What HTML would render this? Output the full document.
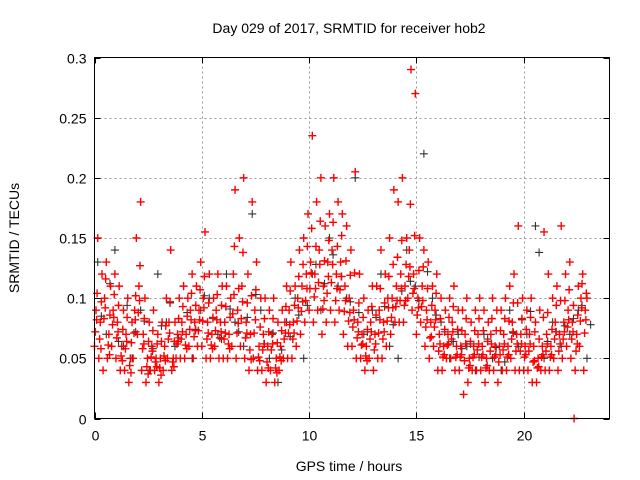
<!DOCTYPE html>
<html><head><meta charset="utf-8"><style>
html,body{margin:0;padding:0;background:#fff;}
svg{display:block;font-family:"Liberation Sans",sans-serif;}
</style></head><body>
<svg id="chart" width="640" height="480" viewBox="0 0 640 480">
<text x="349" y="33" font-size="14" text-anchor="middle">Day 029 of 2017, SRMTID for receiver hob2</text>
<text transform="translate(19,238) rotate(-90)" font-size="14" text-anchor="middle">SRMTID / TECUs</text>
<text x="349" y="471" font-size="14" text-anchor="middle">GPS time / hours</text>
<g id="grid"></g>
<g id="ticks"></g>
<g id="black" stroke="#333" stroke-width="1.1"></g>
<g id="red" stroke="#f00" stroke-width="1.4"></g>
<rect x="94.5" y="57.5" width="515" height="361" fill="none" stroke="#000" stroke-width="1"/>
</svg>
<script>
const xTicks=[0,5,10,15,20];
const yTicks=[0,0.05,0.1,0.15,0.2,0.25,0.3];
const yTickLabels=["0","0.05","0.1","0.15","0.2","0.25","0.3"];
const step=0.2;
const redLo=[.06,.05,.04,.05,.06, .05,.04,.04,.03,.05, .07,.04,.03,.04,.04, .03,.04,.05,.04,.05, .05,.05,.06,.05,.06, .06,.05,.05,.06,.05, .05,.05,.06,.05,.06, .05,.04,.05,.04,.04, .03,.04,.03,.04,.05, .05,.05,.06,.07,.08, .09,.08,.09,.07,.08, .09,.08,.09,.07,.06, .06,.05,.05,.04,.05, .04,.05,.05,.06,.07, .08,.08,.08,.10,.09, .07,.08,.06,.05,.06, .04,.04,.05,.05,.04, .04,.02,.03,.04,.04, .04,.03,.04,.04,.03, .04,.04,.05,.04,.04, .04,.04,.03,.03,.04, .04,.04,.05,.04,.05, .06,.05,.04,.06,.04];
const redMid=[.09,.08,.10,.07,.09, .08,.06,.07,.05,.09, .11,.07,.05,.06,.05, .05,.06,.08,.05,.07, .08,.07,.09,.08,.09, .10,.08,.07,.09,.08, .08,.07,.12,.09,.11, .08,.07,.09,.06,.07, .06,.07,.05,.06,.08, .09,.08,.10,.11,.12, .13,.12,.14,.11,.13, .14,.12,.13,.11,.10, .09,.08,.07,.06,.08, .07,.09,.08,.10,.10, .11,.12,.11,.14,.12, .10,.11,.09,.08,.09, .07,.06,.07,.08,.06, .06,.07,.05,.06,.07, .06,.05,.07,.06,.06, .07,.06,.08,.07,.07, .06,.07,.06,.05,.06, .07,.06,.08,.07,.08, .09,.08,.07,.10,.09];
const redHi=[.15,.12,.13,.11,.12, .11,.09,.10,.08,.15, .18,.10,.08,.09,.07, .08,.10,.14,.08,.10, .11,.10,.12,.11,.13, .155,.12,.10,.12,.11, .11,.10,.19,.15,.20, .12,.18,.13,.10,.10, .09,.10,.08,.09,.11, .13,.11,.14,.15,.17, .235,.18,.20,.16,.17, .20,.18,.17,.16,.14, .205,.12,.10,.09,.11, .11,.14,.12,.15,.19, .18,.20,.15,.29,.27, .15,.14,.13,.11,.12, .10,.09,.10,.11,.09, .09,.10,.08,.09,.10, .09,.08,.10,.09,.09, .10,.11,.12,.16,.10, .09,.10,.08,.09,.155, .12,.10,.11,.16,.12, .13,0,.11,.12,.10];
const redQ1=[.072,.066,.083,.061,.078, .067,.052,.058,.044,.071, .088,.058,.043,.051,.047, .042,.052,.066,.047,.062, .066,.061,.074,.068,.073, .081,.066,.061,.073,.067, .066,.062,.087,.071,.083, .067,.057,.071,.051,.057, .047,.057,.042,.051,.066, .071,.066,.081,.089,.098, .108,.101,.113,.091,.104, .113,.098,.107,.089,.081, .076,.067,.061,.052,.066, .057,.071,.066,.081,.084, .093,.098,.094,.118,.104, .086,.093,.076,.067,.076, .056,.051,.061,.066,.051, .051,.048,.042,.051,.057, .051,.042,.056,.051,.047, .057,.051,.066,.056,.056, .051,.056,.047,.042,.051, .056,.051,.066,.056,.066, .076,.066,.056,.081,.071];
const redQ2=[.104,.097,.116,.086,.103, .094,.074,.084,.063,.102, .127,.083,.064,.073,.062, .064,.077,.097,.064,.083, .093,.085,.104,.094,.107, .118,.096,.084,.103,.094, .093,.084,.143,.108,.138, .096,.102,.107,.076,.083, .072,.083,.063,.073,.093, .106,.094,.118,.128,.143, .158,.143,.164,.131,.148, .163,.143,.152,.131,.119, .121,.096,.084,.074,.093, .086,.108,.096,.118,.128, .134,.148,.128,.178,.152, .123,.126,.108,.094,.104, .083,.074,.084,.093,.074, .073,.083,.064,.073,.083, .073,.064,.083,.073,.073, .083,.081,.096,.096,.083, .074,.084,.072,.066,.084, .088,.074,.094,.098,.098, .107,.094,.086,.112,.104];
const redQ3=[.082,.058,.092,.053,.084, .072,.048,.064,.038,.082, .098,.062,.037,.056,.043, .036,.048,.071,.043,.064, .072,.058,.082,.073,.082, .092,.071,.058,.082,.072, .071,.058,.103,.079,.097, .071,.049,.082,.048,.062, .042,.062,.038,.048,.071, .078,.071,.092,.097,.108, .121,.108,.128,.098,.118, .128,.108,.118,.098,.088, .082,.072,.062,.048,.072, .062,.082,.072,.092,.092, .098,.108,.098,.126,.108, .092,.098,.082,.068,.082, .062,.053,.062,.072,.053, .053,.062,.044,.053,.062, .053,.044,.062,.053,.053, .062,.053,.072,.062,.062, .053,.062,.048,.043,.053, .062,.053,.072,.062,.072, .082,.072,.062,.092,.082];
const blackVals=[.13,.07,.14,.06,.05,.09,.04,.12,.08,.06,.11,.05,.09,.10,.07,.12,.08,.06,.17,.09,.05,.03,.08,.10,.05,.12,.09,.15,.11,.10,.20,.07,.09,.12,.06,.05,.14,.11,.22,.10,.08,.05,.07,.06,.04,.07,.05,.04,.09,.06,.07,.16,.05,.08,.06,.07,.09,.05];
const blackVals2=[.085,.112,.064,.094,.072,.081,.058,.077,.096,.067,.088,.074,.102,.083,.066,.091,.072,.084,.103,.062,.071,.057,.068,.086,.094,.128,.112,.136,.118,.097,.088,.072,.084,.093,.078,.106,.114,.098,.122,.086,.072,.064,.058,.062,.051,.066,.059,.047,.071,.082,.089,.138,.064,.072,.077,.083,.094,.078];
const blackStep=0.4;
const X0=94.5,X1=609.5,Y0=418.5,Y1=57.5;
function xs(t){return X0+(t/24)*(X1-X0);}
function ys(v){return Y0-(v/0.3)*(Y0-Y1);}
const NS="http://www.w3.org/2000/svg";
const grid=document.getElementById('grid'),ticks=document.getElementById('ticks');
function line(g,x1,y1,x2,y2,attrs){const l=document.createElementNS(NS,'line');l.setAttribute('x1',x1);l.setAttribute('y1',y1);l.setAttribute('x2',x2);l.setAttribute('y2',y2);for(const k in attrs)l.setAttribute(k,attrs[k]);g.appendChild(l);return l;}
function text(g,x,y,s,anchor){const t=document.createElementNS(NS,'text');t.setAttribute('x',x);t.setAttribute('y',y);t.setAttribute('font-size','14');t.setAttribute('text-anchor',anchor);t.textContent=s;g.appendChild(t);return t;}
xTicks.forEach(t=>{const x=Math.round(xs(t))+0.5;
 if(t>0){const gl=line(grid,x,Y0,x,Y1,{stroke:'#999','stroke-dasharray':'2,3'});
 
 }
 line(ticks,x,Y0,x,Y0-6,{stroke:'#000'});line(ticks,x,Y1,x,Y1+6,{stroke:'#000'});
 const lb=text(ticks,x,Y0+22,String(t),'middle');
 
 });
yTicks.forEach((v,i)=>{const y=Math.round(ys(v))+0.5;
 if(v>0&&v<0.3){const gl=line(grid,X0,y,X1,y,{stroke:'#999','stroke-dasharray':'2,3'});
 
 }
 line(ticks,X0,y,X0+6,y,{stroke:'#000'});line(ticks,X1,y,X1-6,y,{stroke:'#000'});
 const lb=text(ticks,X0-8,y+5,yTickLabels[i],'end');
 
 });
function plus(g,t,v,name){const x=xs(t),y=ys(v);const p=document.createElementNS(NS,'path');
 p.setAttribute('d','M'+(x-4)+' '+y+'h8M'+x+' '+(y-4)+'v8');
 
 
 g.appendChild(p);}
const bg=document.getElementById('black'),rg=document.getElementById('red');
blackVals.forEach((v,i)=>plus(bg,i*blackStep+0.15,v,'black-point'));
blackVals2.forEach((v,i)=>plus(bg,i*blackStep+0.32,v,'black-point'));
redLo.forEach((v,i)=>plus(rg,i*step,v,'red-point'));
redQ1.forEach((v,i)=>plus(rg,i*step+0.04,v,'red-point'));
redMid.forEach((v,i)=>plus(rg,i*step+0.07,v,'red-point'));
redQ3.forEach((v,i)=>plus(rg,i*step+0.1,v,'red-point'));
redQ2.forEach((v,i)=>plus(rg,i*step+0.12,v,'red-point'));
redHi.forEach((v,i)=>plus(rg,i*step+0.15,v,'red-point'));
</script>
</body></html>
